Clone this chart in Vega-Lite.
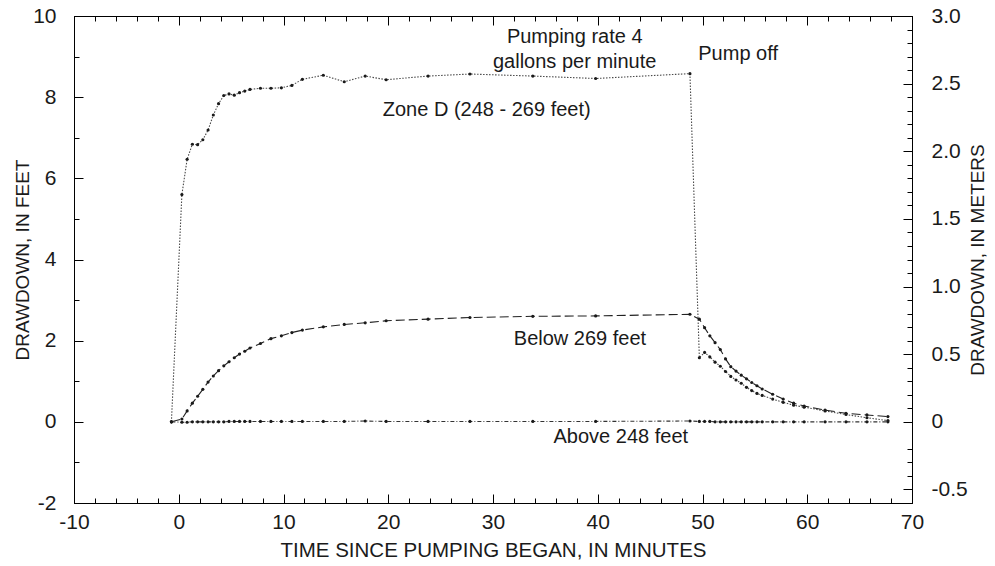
{
  "$schema": "https://vega.github.io/schema/vega-lite/v6.json",
  "autosize": "none",
  "width": 838,
  "height": 487,
  "padding": {"left": 74, "top": 16, "right": 83, "bottom": 63},
  "background": "#ffffff",
  "config": {
    "font": "Liberation Sans",
    "view": {"stroke": "#000000", "strokeWidth": 1},
    "axis": {
      "grid": false,
      "domainColor": "#000000",
      "domainWidth": 1,
      "tickColor": "#000000",
      "tickWidth": 1,
      "labelColor": "#1a1a1a",
      "labelFontSize": 21,
      "labelFont": "Liberation Sans",
      "titleColor": "#1a1a1a",
      "titleFontSize": 19,
      "titleFontWeight": "normal",
      "titleFont": "Liberation Sans",
      "labelFlush": false,
      "labelOverlap": false,
      "offset": 0
    }
  },
  "datasets": {
    "drawdown": [
      {"t": -0.7, "ft": 0, "well": "zoneD"},
      {"t": 0.3, "ft": 5.6, "well": "zoneD"},
      {"t": 0.8, "ft": 6.47, "well": "zoneD"},
      {"t": 1.3, "ft": 6.84, "well": "zoneD"},
      {"t": 1.8, "ft": 6.83, "well": "zoneD"},
      {"t": 2.3, "ft": 6.95, "well": "zoneD"},
      {"t": 2.8, "ft": 7.19, "well": "zoneD"},
      {"t": 3.3, "ft": 7.56, "well": "zoneD"},
      {"t": 3.8, "ft": 7.84, "well": "zoneD"},
      {"t": 4.3, "ft": 8.04, "well": "zoneD"},
      {"t": 4.8, "ft": 8.08, "well": "zoneD"},
      {"t": 5.3, "ft": 8.05, "well": "zoneD"},
      {"t": 5.8, "ft": 8.11, "well": "zoneD"},
      {"t": 6.3, "ft": 8.15, "well": "zoneD"},
      {"t": 6.8, "ft": 8.19, "well": "zoneD"},
      {"t": 7.8, "ft": 8.22, "well": "zoneD"},
      {"t": 8.8, "ft": 8.22, "well": "zoneD"},
      {"t": 9.8, "ft": 8.23, "well": "zoneD"},
      {"t": 10.8, "ft": 8.29, "well": "zoneD"},
      {"t": 11.8, "ft": 8.44, "well": "zoneD"},
      {"t": 13.8, "ft": 8.54, "well": "zoneD"},
      {"t": 15.8, "ft": 8.38, "well": "zoneD"},
      {"t": 17.8, "ft": 8.52, "well": "zoneD"},
      {"t": 19.8, "ft": 8.43, "well": "zoneD"},
      {"t": 23.8, "ft": 8.52, "well": "zoneD"},
      {"t": 27.8, "ft": 8.57, "well": "zoneD"},
      {"t": 33.8, "ft": 8.52, "well": "zoneD"},
      {"t": 39.8, "ft": 8.46, "well": "zoneD"},
      {"t": 48.8, "ft": 8.58, "well": "zoneD"},
      {"t": 49.7, "ft": 1.58, "well": "zoneD"},
      {"t": 50.2, "ft": 1.71, "well": "zoneD"},
      {"t": 50.7, "ft": 1.6, "well": "zoneD"},
      {"t": 51.2, "ft": 1.47, "well": "zoneD"},
      {"t": 51.7, "ft": 1.37, "well": "zoneD"},
      {"t": 52.2, "ft": 1.24, "well": "zoneD"},
      {"t": 52.7, "ft": 1.12, "well": "zoneD"},
      {"t": 53.2, "ft": 1.03, "well": "zoneD"},
      {"t": 53.7, "ft": 0.95, "well": "zoneD"},
      {"t": 54.2, "ft": 0.85, "well": "zoneD"},
      {"t": 54.7, "ft": 0.77, "well": "zoneD"},
      {"t": 55.2, "ft": 0.7, "well": "zoneD"},
      {"t": 55.7, "ft": 0.65, "well": "zoneD"},
      {"t": 56.7, "ft": 0.56, "well": "zoneD"},
      {"t": 57.7, "ft": 0.48, "well": "zoneD"},
      {"t": 58.7, "ft": 0.41, "well": "zoneD"},
      {"t": 59.7, "ft": 0.36, "well": "zoneD"},
      {"t": 61.7, "ft": 0.27, "well": "zoneD"},
      {"t": 63.7, "ft": 0.18, "well": "zoneD"},
      {"t": 65.7, "ft": 0.1, "well": "zoneD"},
      {"t": 67.7, "ft": 0.03, "well": "zoneD"},

      {"t": -0.7, "ft": 0, "well": "below"},
      {"t": 0.3, "ft": 0.07, "well": "below"},
      {"t": 0.8, "ft": 0.27, "well": "below"},
      {"t": 1.3, "ft": 0.46, "well": "below"},
      {"t": 1.8, "ft": 0.63, "well": "below"},
      {"t": 2.3, "ft": 0.8, "well": "below"},
      {"t": 2.8, "ft": 0.98, "well": "below"},
      {"t": 3.3, "ft": 1.13, "well": "below"},
      {"t": 3.8, "ft": 1.26, "well": "below"},
      {"t": 4.3, "ft": 1.38, "well": "below"},
      {"t": 4.8, "ft": 1.48, "well": "below"},
      {"t": 5.3, "ft": 1.58, "well": "below"},
      {"t": 5.8, "ft": 1.67, "well": "below"},
      {"t": 6.3, "ft": 1.74, "well": "below"},
      {"t": 6.8, "ft": 1.82, "well": "below"},
      {"t": 7.8, "ft": 1.93, "well": "below"},
      {"t": 8.8, "ft": 2.05, "well": "below"},
      {"t": 9.8, "ft": 2.12, "well": "below"},
      {"t": 10.8, "ft": 2.2, "well": "below"},
      {"t": 11.8, "ft": 2.26, "well": "below"},
      {"t": 13.8, "ft": 2.34, "well": "below"},
      {"t": 15.8, "ft": 2.4, "well": "below"},
      {"t": 17.8, "ft": 2.44, "well": "below"},
      {"t": 19.8, "ft": 2.49, "well": "below"},
      {"t": 23.8, "ft": 2.53, "well": "below"},
      {"t": 27.8, "ft": 2.57, "well": "below"},
      {"t": 33.8, "ft": 2.6, "well": "below"},
      {"t": 39.8, "ft": 2.61, "well": "below"},
      {"t": 48.8, "ft": 2.65, "well": "below"},
      {"t": 49.7, "ft": 2.53, "well": "below"},
      {"t": 50.2, "ft": 2.32, "well": "below"},
      {"t": 50.7, "ft": 2.12, "well": "below"},
      {"t": 51.2, "ft": 1.95, "well": "below"},
      {"t": 51.7, "ft": 1.78, "well": "below"},
      {"t": 52.2, "ft": 1.55, "well": "below"},
      {"t": 52.7, "ft": 1.36, "well": "below"},
      {"t": 53.2, "ft": 1.25, "well": "below"},
      {"t": 53.7, "ft": 1.15, "well": "below"},
      {"t": 54.2, "ft": 1.06, "well": "below"},
      {"t": 54.7, "ft": 0.97, "well": "below"},
      {"t": 55.2, "ft": 0.89, "well": "below"},
      {"t": 55.7, "ft": 0.81, "well": "below"},
      {"t": 56.7, "ft": 0.68, "well": "below"},
      {"t": 57.7, "ft": 0.56, "well": "below"},
      {"t": 58.7, "ft": 0.46, "well": "below"},
      {"t": 59.7, "ft": 0.39, "well": "below"},
      {"t": 61.7, "ft": 0.29, "well": "below"},
      {"t": 63.7, "ft": 0.21, "well": "below"},
      {"t": 65.7, "ft": 0.17, "well": "below"},
      {"t": 67.7, "ft": 0.13, "well": "below"},

      {"t": -0.7, "ft": 0, "well": "above"},
      {"t": 0.3, "ft": -0.01, "well": "above"},
      {"t": 0.8, "ft": -0.01, "well": "above"},
      {"t": 1.3, "ft": 0, "well": "above"},
      {"t": 1.8, "ft": 0, "well": "above"},
      {"t": 2.3, "ft": 0, "well": "above"},
      {"t": 2.8, "ft": 0, "well": "above"},
      {"t": 3.3, "ft": 0, "well": "above"},
      {"t": 3.8, "ft": 0, "well": "above"},
      {"t": 4.3, "ft": 0, "well": "above"},
      {"t": 4.8, "ft": 0.01, "well": "above"},
      {"t": 5.3, "ft": 0.01, "well": "above"},
      {"t": 5.8, "ft": 0.01, "well": "above"},
      {"t": 6.3, "ft": 0.01, "well": "above"},
      {"t": 6.8, "ft": 0.01, "well": "above"},
      {"t": 7.8, "ft": 0.01, "well": "above"},
      {"t": 8.8, "ft": 0.01, "well": "above"},
      {"t": 9.8, "ft": 0.01, "well": "above"},
      {"t": 10.8, "ft": 0.01, "well": "above"},
      {"t": 11.8, "ft": 0.01, "well": "above"},
      {"t": 13.8, "ft": 0.01, "well": "above"},
      {"t": 15.8, "ft": 0.01, "well": "above"},
      {"t": 17.8, "ft": 0.02, "well": "above"},
      {"t": 19.8, "ft": 0.01, "well": "above"},
      {"t": 23.8, "ft": 0.01, "well": "above"},
      {"t": 27.8, "ft": 0.01, "well": "above"},
      {"t": 33.8, "ft": 0.01, "well": "above"},
      {"t": 39.8, "ft": 0.01, "well": "above"},
      {"t": 48.8, "ft": 0.02, "well": "above"},
      {"t": 49.7, "ft": 0.01, "well": "above"},
      {"t": 50.2, "ft": 0.01, "well": "above"},
      {"t": 50.7, "ft": 0.01, "well": "above"},
      {"t": 51.2, "ft": 0, "well": "above"},
      {"t": 51.7, "ft": 0, "well": "above"},
      {"t": 52.2, "ft": 0, "well": "above"},
      {"t": 52.7, "ft": 0, "well": "above"},
      {"t": 53.2, "ft": 0, "well": "above"},
      {"t": 53.7, "ft": 0, "well": "above"},
      {"t": 54.2, "ft": 0, "well": "above"},
      {"t": 54.7, "ft": 0, "well": "above"},
      {"t": 55.2, "ft": 0, "well": "above"},
      {"t": 55.7, "ft": 0, "well": "above"},
      {"t": 56.7, "ft": 0, "well": "above"},
      {"t": 57.7, "ft": 0, "well": "above"},
      {"t": 58.7, "ft": 0, "well": "above"},
      {"t": 59.7, "ft": 0, "well": "above"},
      {"t": 61.7, "ft": 0, "well": "above"},
      {"t": 63.7, "ft": 0, "well": "above"},
      {"t": 65.7, "ft": 0, "well": "above"},
      {"t": 67.7, "ft": 0, "well": "above"}
    ],
    "pumpNotes": [
      {"t": 37.8, "ft": 9.48, "text": "Pumping rate 4"},
      {"t": 37.8, "ft": 8.86, "text": "gallons per minute"},
      {"t": 53.4, "ft": 9.07, "text": "Pump off"}
    ],
    "seriesNotes": [
      {"t": 29.4, "ft": 7.68, "text": "Zone D (248 - 269 feet)"},
      {"t": 38.3, "ft": 2.04, "text": "Below 269 feet"},
      {"t": 42.2, "ft": -0.37, "text": "Above 248 feet"}
    ]
  },
  "layer": [
    {
      "data": {"name": "drawdown"},
      "mark": {"type": "line", "strokeWidth": 1.1, "clip": true},
      "encoding": {
        "x": {
          "field": "t",
          "type": "quantitative",
          "scale": {"domain": [-10, 70], "nice": false, "zero": false},
          "axis": {
            "orient": "bottom",
            "title": "TIME SINCE PUMPING BEGAN, IN MINUTES",
            "titleFontSize": 20.5,
            "values": [-10, 0, 10, 20, 30, 40, 50, 60, 70],
            "labelExpr": "replace(datum.label, '\u2212', '-')",
            "tickSize": -9,
            "labelPadding": 17,
            "titlePadding": 8
          }
        },
        "y": {
          "field": "ft",
          "type": "quantitative",
          "scale": {"domain": [-2, 10], "nice": false, "zero": false},
          "axis": {
            "orient": "left",
            "title": "DRAWDOWN, IN FEET",
            "values": [-2, 0, 2, 4, 6, 8, 10],
            "labelExpr": "replace(datum.label, '\u2212', '-')",
            "tickSize": -9,
            "labelPadding": 27,
            "titlePadding": 0
          }
        },
        "detail": {"field": "well"},
        "color": {
          "field": "well",
          "type": "nominal",
          "scale": {"domain": ["zoneD", "below", "above"], "range": ["#4a4a4a", "#222222", "#333333"]},
          "legend": null
        },
        "strokeDash": {
          "field": "well",
          "type": "nominal",
          "scale": {"domain": ["zoneD", "below", "above"], "range": [[1.5, 1.5], [9, 4], [4, 2, 1, 2]]},
          "legend": null
        }
      }
    },
    {
      "data": {"name": "drawdown"},
      "mark": {"type": "point", "filled": true, "size": 10, "opacity": 1, "color": "#1a1a1a"},
      "encoding": {
        "x": {
          "field": "t",
          "type": "quantitative",
          "scale": {"domain": [-10, 70], "nice": false, "zero": false},
          "axis": {
            "orient": "bottom",
            "title": null,
            "labels": false,
            "domain": false,
            "values": [-8, -6, -4, -2, 2, 4, 6, 8, 12, 14, 16, 18, 22, 24, 26, 28, 32, 34, 36, 38, 42, 44, 46, 48, 52, 54, 56, 58, 62, 64, 66, 68],
            "tickSize": -5
          }
        },
        "y": {
          "field": "ft",
          "type": "quantitative",
          "scale": {"domain": [-2, 10], "nice": false, "zero": false},
          "axis": {
            "orient": "left",
            "title": null,
            "labels": false,
            "domain": false,
            "values": [-1, 1, 3, 5, 7, 9],
            "tickSize": -5
          }
        }
      }
    },
    {
      "data": {"name": "pumpNotes"},
      "mark": {"type": "text", "fontSize": 20, "font": "Liberation Sans", "color": "#1a1a1a", "align": "center", "baseline": "middle"},
      "encoding": {
        "x": {
          "field": "t",
          "type": "quantitative",
          "scale": {"domain": [-10, 70], "nice": false, "zero": false},
          "axis": {
            "orient": "top",
            "title": null,
            "labels": false,
            "values": [-10, 0, 10, 20, 30, 40, 50, 60, 70],
            "tickSize": -9
          }
        },
        "y": {
          "field": "ft",
          "type": "quantitative",
          "scale": {"domain": [-2, 10], "nice": false, "zero": false},
          "axis": {
            "orient": "right",
            "title": "DRAWDOWN, IN METERS",
            "titleAngle": -90,
            "values": [-1.666667, 0, 1.666667, 3.333333, 5, 6.666667, 8.333333, 10],
            "labelExpr": "abs(datum.value) < 0.001 ? '0' : replace(format(datum.value * 0.3, '.1f'), '\u2212', '-')",
            "tickSize": -9,
            "labelPadding": 28,
            "titlePadding": 20
          }
        },
        "text": {"field": "text"}
      }
    },
    {
      "data": {"name": "seriesNotes"},
      "mark": {"type": "text", "fontSize": 20, "font": "Liberation Sans", "color": "#1a1a1a", "align": "center", "baseline": "middle"},
      "encoding": {
        "x": {
          "field": "t",
          "type": "quantitative",
          "scale": {"domain": [-10, 70], "nice": false, "zero": false},
          "axis": {
            "orient": "top",
            "title": null,
            "labels": false,
            "domain": false,
            "values": [-8, -6, -4, -2, 2, 4, 6, 8, 12, 14, 16, 18, 22, 24, 26, 28, 32, 34, 36, 38, 42, 44, 46, 48, 52, 54, 56, 58, 62, 64, 66, 68],
            "tickSize": -5
          }
        },
        "y": {
          "field": "ft",
          "type": "quantitative",
          "scale": {"domain": [-2, 10], "nice": false, "zero": false},
          "axis": {
            "orient": "right",
            "title": null,
            "labels": false,
            "domain": false,
            "values": [-1.666667, -1.333333, -1, -0.666667, 0.333333, 0.666667, 1, 1.333333, 2, 2.333333, 2.666667, 3, 3.666667, 4, 4.333333, 4.666667, 5.333333, 5.666667, 6, 6.333333, 7, 7.333333, 7.666667, 8, 8.666667, 9, 9.333333, 9.666667],
            "tickSize": -5
          }
        },
        "text": {"field": "text"}
      }
    }
  ],
  "resolve": {"scale": {"x": "independent", "y": "independent"}}
}
